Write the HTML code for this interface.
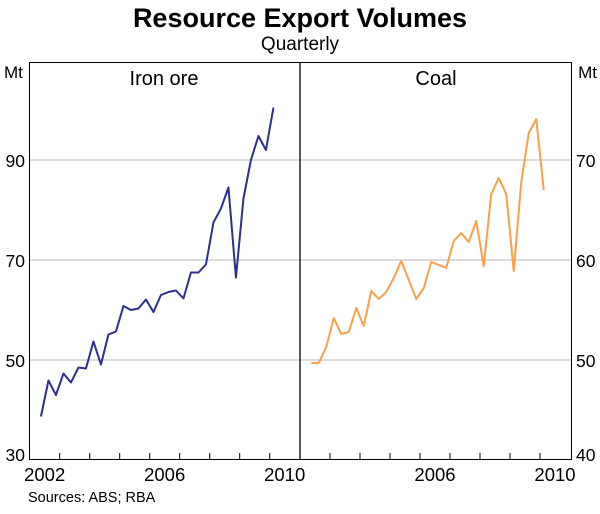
<!DOCTYPE html>
<html><head><meta charset="utf-8"><style>
body{margin:0;background:#fff;font-family:"Liberation Sans",Arial,sans-serif;}
svg text{font-family:"Liberation Sans",Arial,sans-serif;fill:#000;}
</style></head><body>
<svg width="600" height="509" viewBox="0 0 600 509" xmlns="http://www.w3.org/2000/svg">
<text x="300" y="27" text-anchor="middle" font-size="27" font-weight="bold">Resource Export Volumes</text>
<text x="300" y="50" text-anchor="middle" font-size="19">Quarterly</text>
<text x="4" y="78" font-size="17">Mt</text>
<text x="597" y="78" font-size="17" text-anchor="end">Mt</text>
<g id="grid"></g>
<rect x="29.5" y="62.5" width="542" height="397" fill="none" stroke="#000" stroke-width="1"/>
<line x1="300" y1="62" x2="300" y2="460" stroke="#000" stroke-width="1.3"/>
<text x="164" y="85" text-anchor="middle" font-size="20">Iron ore</text>
<text x="436" y="85" text-anchor="middle" font-size="20">Coal</text>
<g id="ticks"></g>
<g id="series"></g>
<text x="28" y="502" font-size="14.5">Sources: ABS; RBA</text>
</svg>
<script>
const ironOre=[38.7,45.9,43,47.3,45.5,48.5,48.3,53.7,49.1,55.1,55.7,60.8,60,60.3,62.1,59.6,63,63.6,63.9,62.3,67.5,67.5,69.1,77.5,80.3,84.5,66.5,82.3,90,94.8,92,100.5];
const coal=[49.7,49.7,51.3,54.2,52.6,52.8,55.2,53.4,56.9,56.1,56.8,58.2,59.9,58,56.1,57.2,59.8,59.5,59.2,61.9,62.7,61.8,63.9,59.4,66.6,68.2,66.6,58.9,67.8,72.7,74.1,67];
const leftTicks=[30,50,70,90];
const rightTicks=[40,50,60,70];
const leftYearLabels=[2002,2006,2010];
const rightYearLabels=[2006,2010];
const startYear=2002;
const firstQuarter=2002.375;
const NS="http://www.w3.org/2000/svg";
const yL=v=>460-(v-30)*5;
const yR=v=>460-(v-40)*10;
const xL=t=>29.7+(t-startYear)*30;
const xR=t=>300+(t-startYear)*30;
function mk(tag,attrs,parent){const e=document.createElementNS(NS,tag);for(const k in attrs)e.setAttribute(k,attrs[k]);document.getElementById(parent).appendChild(e);return e;}
leftTicks.forEach((v,i)=>{
  const y=yL(v);
  if(i>0){const g=mk('line',{x1:30,x2:571,y1:y,y2:y,stroke:'#d0d0d0','stroke-width':1.5},'grid');
  
  }
  const t=mk('text',{x:25,y:i===0?y+1:y+7,'text-anchor':'end','font-size':17.5},'ticks');t.textContent=v;
  
  
});
rightTicks.forEach((v,i)=>{
  const y=yR(v);
  const t=mk('text',{x:576,y:i===0?y+1:y+7,'font-size':17.5},'ticks');t.textContent=v;
  
  
});
leftYearLabels.forEach(yr=>{
  const a=mk('text',{x:xL(yr+0.5),y:481,'text-anchor':'middle','font-size':18.5},'ticks');a.textContent=yr;
  
  
});
rightYearLabels.forEach(yr=>{
  const b=mk('text',{x:xR(yr+0.5),y:481,'text-anchor':'middle','font-size':18.5},'ticks');b.textContent=yr;
  
  
});
for(let yr=startYear+1;yr<=2010;yr++){
  [xL(yr),xR(yr)].forEach(x=>{const l=mk('line',{x1:x,x2:x,y1:460,y2:453,stroke:'#000'},'ticks');
  
  });
}
const p1=mk('polyline',{points:ironOre.map((v,i)=>xL(firstQuarter+i/4)+','+yL(v)).join(' '),fill:'none',stroke:'#2b2f8f','stroke-width':2,'stroke-linejoin':'round'},'series');


const p2=mk('polyline',{points:coal.map((v,i)=>xR(firstQuarter+i/4)+','+yR(v)).join(' '),fill:'none',stroke:'#f9a04a','stroke-width':2,'stroke-linejoin':'round'},'series');


</script>
</body></html>
